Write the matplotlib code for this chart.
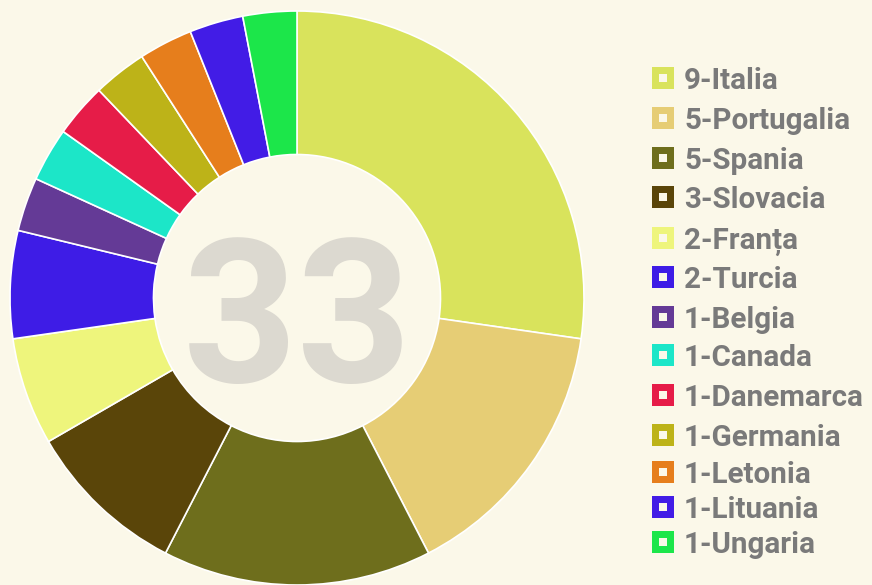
import matplotlib.pyplot as plt
from matplotlib.patches import Rectangle

countries = ['Italia', 'Portugalia', 'Spania', 'Slovacia', 'Franța', 'Turcia',
             'Belgia', 'Canada', 'Danemarca', 'Germania', 'Letonia', 'Lituania',
             'Ungaria']
counts = [9, 5, 5, 3, 2, 2, 1, 1, 1, 1, 1, 1, 1]
colors = ['#d9e35c', '#e6cd75', '#6e6e1c', '#5a4509', '#eef57c', '#3e1ce6',
          '#643a96', '#1ce6c8', '#e61c48', '#bdb318', '#e67e1c', '#421ce6',
          '#1ce64a']

bg = '#fbf8e9'
txt_col = '#7a7a7a'

fig = plt.figure(figsize=(8.72, 5.85), dpi=100, facecolor=bg)
W, H = 872, 585

# donut
cx, cy, r = 297, 298, 287
ax = fig.add_axes([(cx - r) / W, (H - cy - r) / H, 2 * r / W, 2 * r / H])
ax.set_facecolor(bg)
ax.pie(counts, colors=colors, startangle=90, counterclock=False, radius=1,
       wedgeprops=dict(width=0.5, edgecolor='white', linewidth=1.2))
ax.set_xlim(-1, 1)
ax.set_ylim(-1, 1)
ax.set_aspect('equal')
ax.axis('off')
ax.text(0, -0.1, str(sum(counts)), ha='center', va='center',
        fontsize=144, fontweight='bold', color='#dcd9d0', family='Roboto')

# legend
row_y = [78, 118, 158, 197, 238, 277, 317, 355, 395, 435, 472, 507, 542]
sq = 22
for name, n, c, y in zip(countries, counts, colors, row_y):
    x0 = 652
    fig.patches.append(Rectangle((x0 / W, (H - y - sq / 2) / H), sq / W, sq / H,
                                 transform=fig.transFigure, facecolor=c,
                                 edgecolor='none'))
    s = 8
    fig.patches.append(Rectangle(((x0 + sq / 2 - s / 2) / W, (H - y - s / 2) / H),
                                 s / W, s / H, transform=fig.transFigure,
                                 facecolor=bg, edgecolor='none'))
    fig.text(684 / W, (H - y) / H, '{}-{}'.format(n, name), ha='left',
             va='center_baseline', fontsize=21.3, fontweight='bold',
             color=txt_col, family='Roboto')

fig.savefig('out.png', dpi=100, facecolor=bg)
